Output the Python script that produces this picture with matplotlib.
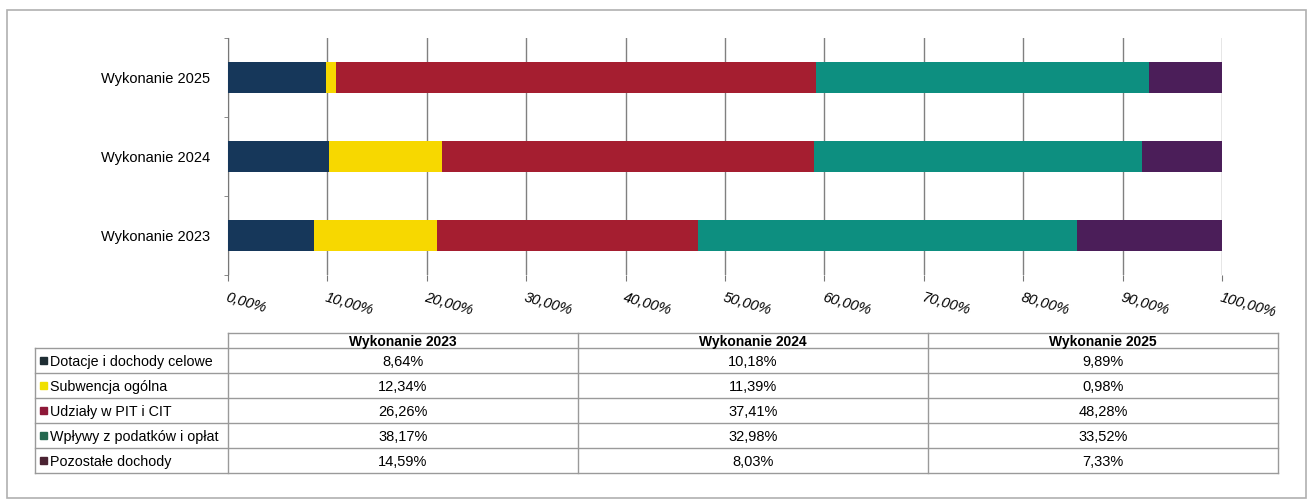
import matplotlib.pyplot as plt
from matplotlib.patches import Rectangle
from matplotlib.lines import Line2D

plt.rcParams['font.family'] = ['Liberation Sans', 'DejaVu Sans']

# data
years = ["Wykonanie 2023", "Wykonanie 2024", "Wykonanie 2025"]
categories = ["Dotacje i dochody celowe", "Subwencja ogólna", "Udziały w PIT i CIT",
              "Wpływy z podatków i opłat", "Pozostałe dochody"]
dotacje = [8.64, 10.18, 9.89]
subwencja = [12.34, 11.39, 0.98]
udzialy = [26.26, 37.41, 48.28]
wplywy = [38.17, 32.98, 33.52]
pozostale = [14.59, 8.03, 7.33]
series = [dotacje, subwencja, udzialy, wplywy, pozostale]
colors = ["#16375a", "#f7d800", "#a51e30", "#0d8f80", "#4b1e59"]
marker_colors = ["#1e2d33", "#f0e000", "#8e1838", "#24684f", "#4a2232"]


def pct(v):
    return f"{v:.2f}%".replace(".", ",")


fig = plt.figure(figsize=(13.1, 5.0), dpi=100)

# outer frame
fig.add_artist(Rectangle((7 / 1310, 2 / 500), 1299 / 1310, 488 / 500, transform=fig.transFigure,
                         fill=False, edgecolor="#b0b0b0", linewidth=1.2))

ax = fig.add_axes([228 / 1310, 225 / 500, 994 / 1310, 237 / 500])
left = [0, 0, 0]
for vals, c in zip(series, colors):
    ax.barh(range(len(years)), vals, left=left, height=0.39, color=c, zorder=3)
    left = [l + v for l, v in zip(left, vals)]

ax.set_xlim(0, 100)
ax.set_ylim(-0.5, 2.5)
ax.set_xticks(range(0, 101, 10))
ax.set_xticklabels([pct(t) for t in range(0, 101, 10)], rotation=-16, ha="left",
                   rotation_mode="anchor", fontsize=10.5, fontstyle="italic")
ax.set_yticks(range(len(years)))
ax.set_yticklabels(years, fontsize=10.5)
ax.set_yticks([-0.5, 0.5, 1.5, 2.5], minor=True)
ax.tick_params(axis="y", which="major", length=0, pad=13)
ax.tick_params(axis="y", which="minor", length=3, color="#777777")
ax.tick_params(axis="x", length=4, color="#777777", pad=7)
ax.grid(axis="x", color="#808080", linewidth=1, zorder=0)
for s in ["top", "right", "bottom"]:
    ax.spines[s].set_visible(False)
ax.spines["left"].set_color("#777777")

# data table underneath
tab = fig.add_axes([0, 0, 1, 1])
tab.set_xlim(0, 1310)
tab.set_ylim(500, 0)
tab.axis("off")
col_edges = [35, 228, 578, 928, 1278]
row_edges = [333, 348, 373, 398, 423, 448, 473]
lc = "#9a9a9a"
# horizontal lines
tab.add_line(Line2D([col_edges[1], col_edges[-1]], [row_edges[0]] * 2, color=lc, lw=1))
for y in row_edges[1:]:
    tab.add_line(Line2D([col_edges[0], col_edges[-1]], [y, y], color=lc, lw=1))
# vertical lines
tab.add_line(Line2D([col_edges[0]] * 2, [row_edges[1], row_edges[-1]], color=lc, lw=1))
for x in col_edges[1:]:
    tab.add_line(Line2D([x, x], [row_edges[0], row_edges[-1]], color=lc, lw=1))

for j, yr in enumerate(years):
    xc = (col_edges[j + 1] + col_edges[j + 2]) / 2
    tab.text(xc, (row_edges[0] + row_edges[1]) / 2, yr, ha="center", va="center_baseline",
             fontsize=10, fontweight="bold")
for i, (cat, vals) in enumerate(zip(categories, series)):
    yc = (row_edges[i + 1] + row_edges[i + 2]) / 2
    tab.add_patch(Rectangle((col_edges[0] + 5, yc - 3.5), 7, 7, color=marker_colors[i]))
    tab.text(col_edges[0] + 15, yc, cat, ha="left", va="center_baseline", fontsize=10.3)
    for j, v in enumerate(vals):
        xc = (col_edges[j + 1] + col_edges[j + 2]) / 2
        tab.text(xc, yc, pct(v), ha="center", va="center_baseline", fontsize=10.5)

fig.savefig("out.png", dpi=100)
